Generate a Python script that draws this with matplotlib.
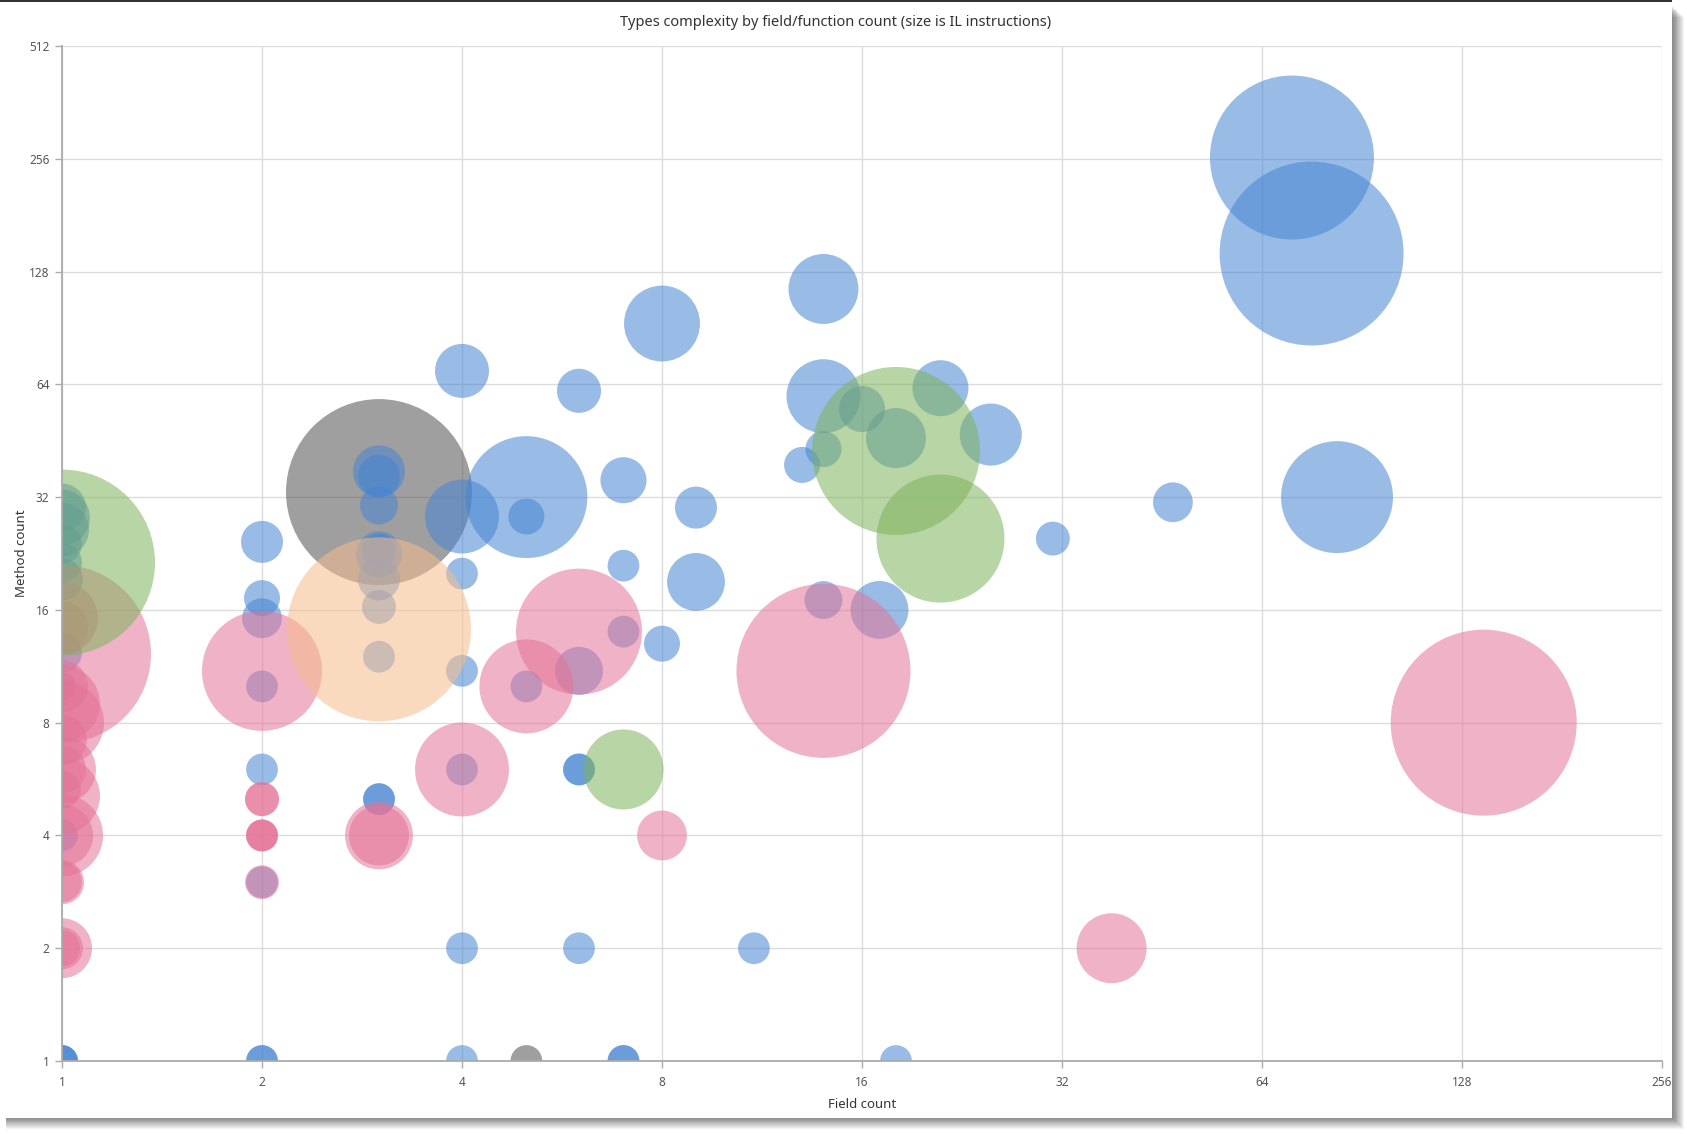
import numpy as np
import matplotlib
matplotlib.use("Agg")
import matplotlib.pyplot as plt
from matplotlib.patches import Rectangle
from matplotlib.ticker import FixedLocator, FixedFormatter, NullLocator

plt.rcParams['font.family'] = ['Noto Sans', 'DejaVu Sans']

TITLE = "Types complexity by field/function count (size is IL instructions)"
X_LABEL = "Field count"
Y_LABEL = "Method count"
X_TICKS = [1, 2, 4, 8, 16, 32, 64, 128, 256]
Y_TICKS = [1, 2, 4, 8, 16, 32, 64, 128, 256, 512]

# --- series: field count, method count, IL instructions ---
gray_fields = [3, 5]
gray_methods = [33, 1]
gray_il = [961, 28]

blue_fields = [71, 76, 83, 47, 31, 14, 8, 14, 21, 25, 16, 18, 14, 13, 14, 17, 9, 9, 8,
               7, 7, 7, 6, 6, 6, 6, 5, 5, 5, 4, 4, 4, 4, 4, 4, 4, 6, 11, 18, 7, 7, 2, 2,
               1, 1, 1, 3, 3, 3, 3, 3, 3, 3, 3, 3, 3, 2, 2, 2, 2, 2, 2,
               1, 1, 1, 1, 1, 1, 1, 1, 1]
blue_methods = [258, 143, 32, 31, 24.8, 115, 93, 59.5, 62.5, 47, 55, 46, 43, 39, 17, 16, 30, 19, 13,
                35.5, 21, 14, 61.5, 11, 6, 6, 32, 28.4, 10, 69.5, 28.4, 20, 11, 6, 2, 1, 2, 2, 1, 1, 1, 1, 1,
                1, 1, 1, 37.5, 36.5, 30.4, 23, 22.5, 19.3, 16.3, 12, 5, 5, 24.3, 17.2, 15.2, 10, 6, 3,
                30, 28.2, 26.2, 24, 21.4, 19.3, 12.3, 10, 4]
blue_il = [747, 940, 348, 44, 32, 136, 160, 152, 87, 107, 59, 100, 36, 36, 40, 93, 49, 93, 36,
           59, 28, 28, 54, 64, 28, 28, 413, 36, 28, 81, 152, 28, 28, 28, 28, 28, 28, 28, 28, 28, 28, 28, 28,
           28, 28, 28, 75, 49, 40, 32, 59, 49, 32, 28, 28, 28, 49, 36, 44, 28, 28, 28,
           64, 87, 81, 44, 44, 49, 44, 22, 28]

pink_fields = [138, 14, 38, 6, 5, 4, 8, 2, 3, 3, 2, 2, 2, 2, 2, 2,
               1, 1, 1, 1, 1, 1, 1, 1, 1, 1, 1, 1, 1, 1, 1, 1, 1, 1]
pink_methods = [8, 11, 2, 14, 10, 6, 4, 11, 4, 4, 5, 5, 4, 4, 4, 3,
                12.2, 10, 9, 8, 7.2, 6, 6, 5.1, 5.3, 4, 4, 3, 3, 2, 2, 2, 15.2, 14.4]
pink_il = [961, 841, 136, 441, 245, 245, 69, 400, 128, 100, 32, 32, 28, 28, 28, 32,
           880, 75, 160, 196, 69, 128, 64, 160, 40, 187, 107, 54, 44, 100, 49, 36, 144, 75]

green_fields = [18, 21, 7, 1]
green_methods = [42.5, 24.8, 6, 21.4]
green_il = [784, 455, 178, 961]

peach_fields = [3]
peach_methods = [14.2]
peach_il = [940]

SERIES = [
    (gray_fields, gray_methods, gray_il, "#505050"),
    (blue_fields, blue_methods, blue_il, "#4685d2"),
    (pink_fields, pink_methods, pink_il, "#e47397"),
    (green_fields, green_methods, green_il, "#7eb45b"),
    (peach_fields, peach_methods, peach_il, "#f6bc8c"),
]

W, H, DPI = 1687, 1134, 100
fig = plt.figure(figsize=(W / DPI, H / DPI), dpi=DPI)
fig.patch.set_facecolor("white")

# panel with drop shadow
PX0, PX1, PY_TOP, PY_BOT = 0, 1672, 0, 1118
def fr(x, y):
    return x / W, 1 - y / H
for k in range(1, 14):
    rect = Rectangle(fr(PX0 + 6, PY_BOT - 1 + k * 0.9), (PX1 - PX0 + k * 0.9 - 6) / W,
                     (PY_BOT - PY_TOP - 6) / H, transform=fig.transFigure,
                     facecolor="black", alpha=0.045, edgecolor="none", zorder=-30)
    fig.add_artist(rect)
fig.add_artist(Rectangle(fr(PX0, PY_BOT), (PX1 - PX0) / W, (PY_BOT - PY_TOP) / H,
                         transform=fig.transFigure, facecolor="white", edgecolor="none", zorder=-20))
fig.add_artist(Rectangle(fr(PX0, 2), (PX1 - PX0) / W, 2 / H, transform=fig.transFigure,
                         facecolor="#333333", edgecolor="none", zorder=-10))

AX_L, AX_R, AX_T, AX_B = 62, 1662, 46, 1061
ax = fig.add_axes([AX_L / W, 1 - AX_B / H, (AX_R - AX_L) / W, (AX_B - AX_T) / H])
ax.set_facecolor("none")
ax.set_xscale("log", base=2)
ax.set_yscale("log", base=2)
ax.set_xlim(1, 256)
ax.set_ylim(1, 512)

def il_to_s(il):
    radius_px = 3.0 * np.sqrt(np.asarray(il, dtype=float))
    return (2 * radius_px * 72.0 / DPI) ** 2

for fx, my, il, col in SERIES:
    ax.scatter(fx, my, s=il_to_s(il), color=col, alpha=0.55, edgecolors="none", zorder=3)

ax.xaxis.set_major_locator(FixedLocator(X_TICKS))
ax.xaxis.set_major_formatter(FixedFormatter([str(t) for t in X_TICKS]))
ax.yaxis.set_major_locator(FixedLocator(Y_TICKS))
ax.yaxis.set_major_formatter(FixedFormatter([str(t) for t in Y_TICKS]))
ax.xaxis.set_minor_locator(NullLocator())
ax.yaxis.set_minor_locator(NullLocator())
ax.grid(True, color="#dcdcdc", linewidth=1.0, zorder=0)
ax.set_axisbelow(True)
for side in ["top", "right"]:
    ax.spines[side].set_visible(False)
for side in ["left", "bottom"]:
    ax.spines[side].set_color("#ababab")
    ax.spines[side].set_linewidth(1.3)
    ax.spines[side].set_zorder(4)
ax.tick_params(axis="both", colors="#ababab", length=5, width=1, labelcolor="#555555", labelsize=8.5)
ax.tick_params(axis="x", pad=6)
ax.tick_params(axis="y", pad=4)

ax.set_xlabel(X_LABEL, fontsize=9.5, color="#333333", labelpad=6)
ax.set_ylabel(Y_LABEL, fontsize=9.5, color="#333333", labelpad=1)
fig.text(836 / W, 1 - 22 / H, TITLE, ha="center", va="center", fontsize=10.5, color="#333333")

fig.savefig("out.png", dpi=DPI, facecolor="white")
